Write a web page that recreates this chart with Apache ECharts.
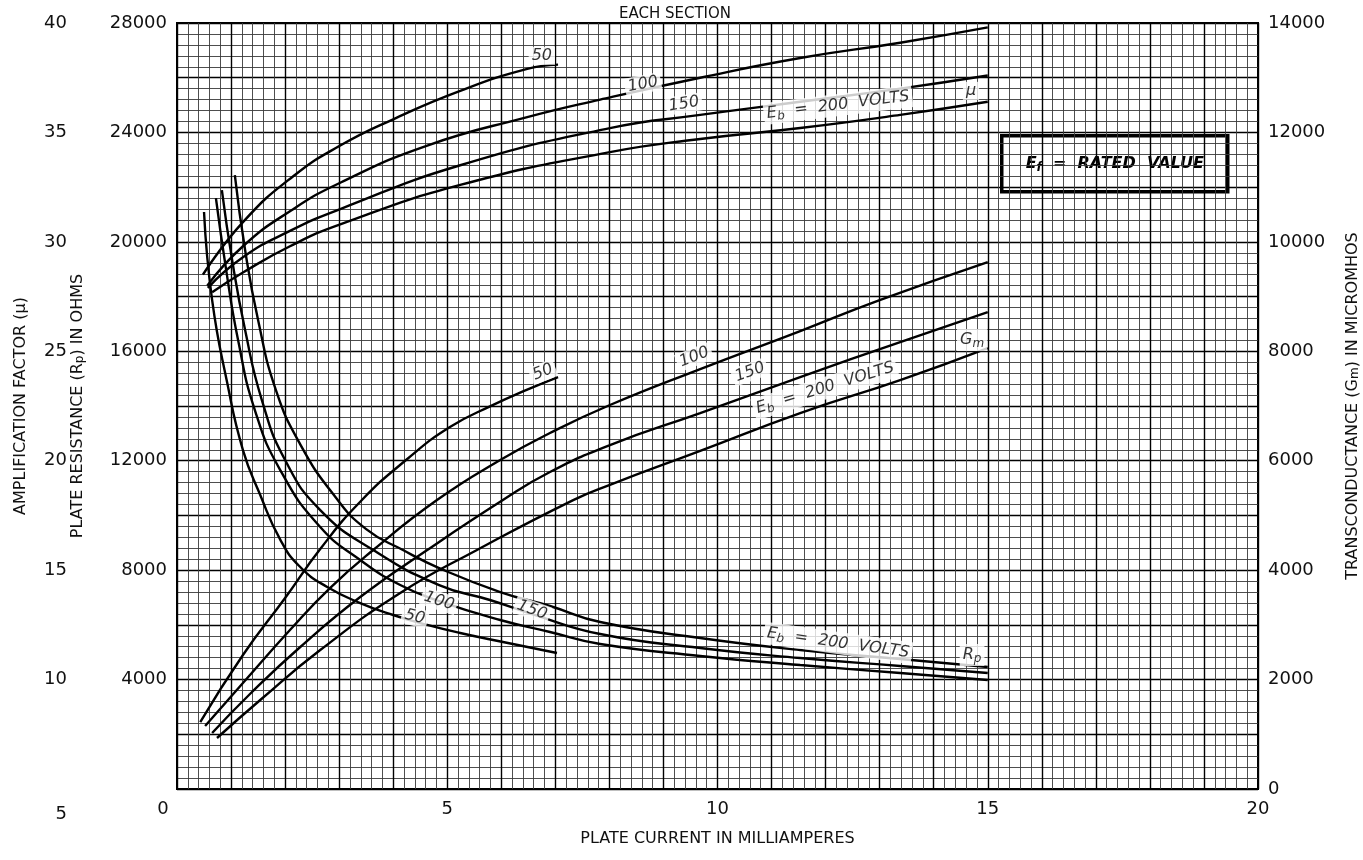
<!DOCTYPE html>
<html><head><meta charset="utf-8">
<script src="https://cdn.jsdelivr.net/npm/echarts@6/dist/echarts.min.js"></script>
<style>html,body{margin:0;padding:0;background:#fff}#c{width:1363px;height:860px}</style>
</head><body><div id="c"></div>
<script>
// ---- Amplification factor (mu) curves: plate current (mA) vs mu ----
const muI50  = [0.48, 1.22, 2.15, 3.02, 4.0, 5.24, 6.48, 7.05];
const mu50   = [28.5, 30.9, 33.0, 34.4, 35.6, 36.9, 37.9, 38.1];
const muI100 = [0.56, 1.22, 2.09, 3.02, 4.63, 6.48, 7.83, 9.68, 11.53, 13.38, 15.0];
const mu100  = [28.0, 29.8, 31.4, 32.7, 34.4, 35.7, 36.5, 37.5, 38.4, 39.1, 39.8];
const muI150 = [0.57, 1.22, 2.09, 3.02, 5.24, 8.01, 9.68, 11.53, 13.38, 15.0];
const mu150  = [27.9, 29.3, 30.5, 31.5, 33.5, 35.2, 35.8, 36.4, 37.0, 37.6];
const muI200 = [0.65, 1.22, 2.09, 3.02, 5.24, 8.01, 9.68, 11.53, 13.38, 15.0];
const mu200  = [27.7, 28.6, 29.8, 30.8, 32.6, 34.1, 34.7, 35.2, 35.8, 36.4];

// ---- Transconductance (Gm, micromhos) curves ----
const gmI50  = [0.43, 1.22, 2.0, 2.65, 3.39, 4.26, 5.05, 5.85, 6.48, 7.05];
const gm50   = [1224, 2449, 3490, 4386, 5250, 6031, 6615, 7020, 7300, 7529];
const gmI100 = [0.52, 1.22, 2.09, 2.83, 3.63, 4.81, 5.98, 6.90, 8.01, 9.68, 11.53, 13.0, 15.0];
const gm100  = [1151, 1937, 2906, 3673, 4368, 5281, 6012, 6506, 7018, 7675, 8370, 8936, 9631];
const gmI150 = [0.65, 1.35, 2.28, 3.39, 4.63, 6.03, 6.90, 8.01, 9.68, 11.53, 13.38, 15.0];
const gm150  = [1023, 1736, 2595, 3509, 4368, 5281, 5793, 6287, 6871, 7529, 8169, 8717];
const gmI200 = [0.74, 1.54, 2.65, 4.13, 5.55, 7.33, 8.01, 9.68, 11.53, 13.38, 15.0];
const gm200  = [932, 1626, 2540, 3582, 4368, 5281, 5560, 6180, 6871, 7474, 8059];

// ---- Plate resistance (Rp, ohms) curves ----
const rpI50  = [0.5, 0.65, 0.93, 1.22, 1.54, 1.91, 2.28, 2.78, 3.39, 4.0, 4.63, 5.24, 5.85, 7.03];
const rp50   = [21089, 17873, 14839, 12390, 10746, 9118, 8114, 7383, 6798, 6360, 5998, 5702, 5446, 4971];
const rpI100 = [0.72, 0.91, 1.13, 1.44, 1.91, 2.65, 3.39, 4.13, 4.85, 5.98, 6.9, 7.83, 9.68, 11.53, 13.38, 15.0];
const rp100  = [21601, 18969, 16411, 13852, 11659, 9576, 8370, 7456, 6871, 6177, 5738, 5300, 4861, 4532, 4240, 3984];
const rpI150 = [0.83, 1.02, 1.26, 1.57, 2.0, 2.65, 3.63, 4.85, 5.79, 6.57, 7.83, 9.68, 11.53, 13.38, 15.0];
const rp150  = [21893, 19335, 16776, 14218, 12025, 10197, 8735, 7456, 6908, 6396, 5665, 5154, 4788, 4496, 4240];
const rpI200 = [1.07, 1.26, 1.5, 1.83, 2.28, 2.92, 3.5, 4.18, 4.85, 5.98, 6.9, 7.83, 9.68, 11.53, 13.38, 15.0];
const rp200  = [22442, 19700, 17142, 14583, 12600, 10700, 9500, 8735, 8077, 7200, 6689, 6104, 5519, 5080, 4751, 4459];

// ---- Axis tick labels ----
const xTicks   = [0, 5, 10, 15, 20];
const rpTicks  = [0, 4000, 8000, 12000, 16000, 20000, 24000, 28000];
const muTicks  = [5, 10, 15, 20, 25, 30, 35, 40];
const gmTicks  = [0, 2000, 4000, 6000, 8000, 10000, 12000, 14000];

// ---- Curve annotations: [current, value, text, rotation] ----
const muLabels = [[6.75, 38.5, '50', 0], [8.62, 37.2, '100', 11], [9.38, 36.3, '150', 9], [12.23, 36.25, 'EB', 7], [14.69, 36.9, 'MU', 0]];
const gmLabels = [[6.77, 7621, '50', 22], [9.57, 7895, '100', 21], [10.6, 7621, '150', 20], [11.99, 7328, 'EB', 17], [14.71, 8205, 'GM', 0]];
const rpLabels = [[4.4, 6287, '50', -14], [4.85, 6871, '100', -18], [6.57, 6542, '150', -20], [12.23, 5336, 'EB', -8], [14.71, 4898, 'RP', 0]];

const FONT = 'DejaVu Sans';
const zip = (xs, ys) => xs.map((x, i) => [x, ys[i]]);

function curve(name, xs, ys, yAxisIndex) {
  return {
    name, type: 'line', yAxisIndex, data: zip(xs, ys),
    showSymbol: false, symbol: 'none', smooth: 0.5,
    lineStyle: { color: '#000', width: 2.4 }, z: 5, silent: true
  };
}
const rich = {
  t: { fontFamily: FONT, fontSize: 16, fontStyle: 'italic', color: '#000' },
  s: { fontFamily: FONT, fontSize: 12, fontStyle: 'italic', color: '#000', padding: [8, 0, 0, 0] }
};
function labelText(code) {
  if (code === 'EB') return '{t|E}{s|b}{t|  =  200  VOLTS}';
  if (code === 'MU') return '{t|μ}';
  if (code === 'GM') return '{t|G}{s|m}';
  if (code === 'RP') return '{t|R}{s|p}';
  return '{t|' + code + '}';
}
function labelSeries(list, yAxisIndex) {
  return {
    type: 'scatter', yAxisIndex, symbolSize: 0, silent: true, z: 10,
    data: list.map(d => ({
      value: [d[0], d[1]],
      label: { show: true, position: 'inside', rotate: d[3], formatter: labelText(d[2]),
               backgroundColor: '#fff', padding: [1, 3], rich }
    }))
  };
}

const axisLabelBase = { fontFamily: FONT, fontSize: 18, color: '#111' };

const option = {
  backgroundColor: '#fff',
  animation: false,
  title: {
    text: 'EACH SECTION', left: 670, top: 2, textAlign: 'center',
    textStyle: { fontFamily: FONT, fontSize: 15, fontWeight: 'normal', color: '#111' }
  },
  grid: { left: 177, right: 105, top: 23, bottom: 71, containLabel: false, outerBoundsMode: 'none',
          show: true, borderColor: '#000', borderWidth: 2, backgroundColor: 'transparent' },
  xAxis: {
    type: 'value', min: 0, max: 20, interval: 1,
    axisLine: { show: false }, axisTick: { show: false },
    minorTick: { show: true, splitNumber: 5, length: 0 },
    splitLine: { show: true, lineStyle: { color: '#000', width: 1.4 } },
    minorSplitLine: { show: true, lineStyle: { color: '#3a3a3a', width: 0.9 } },
    axisLabel: Object.assign({}, axisLabelBase, {
      margin: 11,
      formatter: v => xTicks.indexOf(v) < 0 ? '' : (v === 0 ? '{z|0}' : String(v)),
      rich: { z: { fontFamily: FONT, fontSize: 18, color: '#111', padding: [0, 28, 0, 0] } }
    }),
    name: 'PLATE CURRENT IN MILLIAMPERES', nameLocation: 'middle', nameGap: 42,
    nameTextStyle: { fontFamily: FONT, fontSize: 16, color: '#111' }
  },
  yAxis: [
    {
      type: 'value', position: 'left', min: 0, max: 28000, interval: 2000,
      axisLine: { show: false }, axisTick: { show: false },
      minorTick: { show: true, splitNumber: 5, length: 0 },
      splitLine: { show: true, lineStyle: { color: '#000', width: 1.4 } },
      minorSplitLine: { show: true, lineStyle: { color: '#3a3a3a', width: 0.9 } },
      axisLabel: Object.assign({}, axisLabelBase, {
        margin: 10,
        formatter: v => (v !== 0 && rpTicks.indexOf(v) >= 0) ? String(v) : ''
      }),
      name: 'PLATE RESISTANCE (R{sub|p}) IN OHMS', nameLocation: 'middle', nameGap: 91, nameRotate: 90,
      nameTextStyle: { fontFamily: FONT, fontSize: 16, color: '#111',
        rich: { sub: { fontFamily: FONT, fontSize: 12, color: '#111', verticalAlign: 'bottom' } } }
    },
    {
      type: 'value', position: 'left', offset: 100, min: 5, max: 40, interval: 5,
      axisLine: { show: false }, axisTick: { show: false }, splitLine: { show: false },
      axisLabel: Object.assign({}, axisLabelBase, {
        margin: 10,
        formatter: v => muTicks.indexOf(v) < 0 ? '' : (v === 5 ? '{lo|5}' : String(v)),
        rich: { lo: { fontFamily: FONT, fontSize: 18, color: '#111', padding: [50, 0, 0, 0] } }
      }),
      name: 'AMPLIFICATION FACTOR (μ)', nameLocation: 'middle', nameGap: 48, nameRotate: 90,
      nameTextStyle: { fontFamily: FONT, fontSize: 16, color: '#111' }
    },
    {
      type: 'value', position: 'right', min: 0, max: 14000, interval: 2000,
      axisLine: { show: false }, axisTick: { show: false }, splitLine: { show: false },
      axisLabel: Object.assign({}, axisLabelBase, {
        margin: 10,
        formatter: v => gmTicks.indexOf(v) < 0 ? '' : String(v)
      }),
      name: 'TRANSCONDUCTANCE (G{sub|m}) IN MICROMHOS', nameLocation: 'middle', nameGap: 87, nameRotate: 90,
      nameTextStyle: { fontFamily: FONT, fontSize: 16, color: '#111',
        rich: { sub: { fontFamily: FONT, fontSize: 12, color: '#111', verticalAlign: 'bottom' } } }
    }
  ],
  graphic: [
    {
      type: 'group', left: 1000, top: 134, z: 100,
      children: [
        { type: 'rect', shape: { x: 0, y: 0, width: 226, height: 56 }, style: { fill: '#fff', stroke: '#000', lineWidth: 3.5 } },
        { type: 'text', x: 113, y: 28, style: {
            text: '{a|E}{b|f}{a|  =  RATED  VALUE}', align: 'center', verticalAlign: 'middle',
            rich: { a: { fontFamily: FONT, fontSize: 16, fontStyle: 'italic', fontWeight: 'bold', fill: '#000' },
                    b: { fontFamily: FONT, fontSize: 12, fontStyle: 'italic', fontWeight: 'bold', fill: '#000', padding: [8, 0, 0, 0] } } } }
      ]
    }
  ],
  series: [
    curve('mu50', muI50, mu50, 1), curve('mu100', muI100, mu100, 1), curve('mu150', muI150, mu150, 1), curve('mu200', muI200, mu200, 1),
    curve('gm50', gmI50, gm50, 2), curve('gm100', gmI100, gm100, 2), curve('gm150', gmI150, gm150, 2), curve('gm200', gmI200, gm200, 2),
    curve('rp50', rpI50, rp50, 0), curve('rp100', rpI100, rp100, 0), curve('rp150', rpI150, rp150, 0), curve('rp200', rpI200, rp200, 0),
    labelSeries(muLabels, 1), labelSeries(gmLabels, 2), labelSeries(rpLabels, 0)
  ]
};
const chart = echarts.init(document.getElementById('c'));
chart.setOption(option);
</script></body></html>
